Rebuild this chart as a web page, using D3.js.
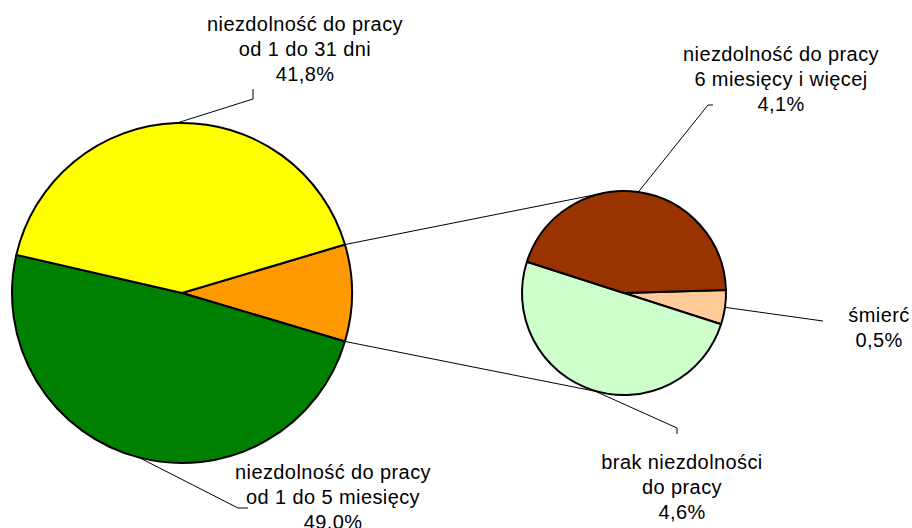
<!DOCTYPE html>
<html lang="pl">
<head>
    <meta charset="UTF-8">
    <title>Niezdolność do pracy</title>
    <script type="text/javascript" src="https://cdn.jsdelivr.net/npm/d3@7/dist/d3.min.js"></script>
</head>
<body>
<style>
    body { margin: 0; background: #ffffff; }
    svg text {
        font-family: "Liberation Sans", Arial, sans-serif;
        font-size: 20px;
        letter-spacing: 0.4px;
        fill: #000000;
    }
</style>
<script>
    // main pie (shares in %)
    var mainCategories = [
        ["niezdolność do pracy", "od 1 do 31 dni"],
        ["niezdolność do pracy", "od 1 do 5 miesięcy"]
    ];
    var mainValues = [41.8, 49.0];
    var mainColors = ["#ffff00", "#008000"];
    var otherColor = "#ff9900";

    // second pie - the rest split up
    var subCategories = [
        ["śmierć"],
        ["brak niezdolności", "do pracy"],
        ["niezdolność do pracy", "6 miesięcy i więcej"]
    ];
    var subValues = [0.5, 4.6, 4.1];
    var subColors = ["#ffcc99", "#ccffcc", "#993300"];

    // where the labels sit (text anchor + leader bend), same order as the categories
    var mainLabelPos = [
        {x: 305, y: 31, bend: [[253, 99], [253, 89]]},
        {x: 333, y: 478.5, bend: [[238, 508], [248, 508]]}
    ];
    var subLabelPos = [
        {x: 879, y: 321.5, bend: [[823, 321]]},
        {x: 682, y: 468.5, bend: [[677, 428], [677, 434]]},
        {x: 781, y: 61, bend: [[708, 105], [713, 105]]}
    ];

    var width = 912, height = 528;
    var mainC = [182, 293], mainR = 170;
    var subC = [624, 293], subR = 102;
    var lineStep = 25;

    var fmt = function(v){ return v.toFixed(1).replace(".", ",") + "%"; };
    var rad = function(deg){ return deg * Math.PI / 180; };

    var svg = d3.select("body").append("svg")
        .attr("width", width)
        .attr("height", height);

    var otherTotal = d3.sum(subValues);

    // slices clockwise starting with the "other" wedge pointing right
    var mainSlices = [{value: otherTotal, color: otherColor, idx: -1}];
    [1, 0].forEach(function(i){
        mainSlices.push({value: mainValues[i], color: mainColors[i], idx: i});
    });
    var mainTotal = otherTotal + d3.sum(mainValues);
    var mainStart = Math.PI / 2 - Math.PI * otherTotal / mainTotal;

    var mainArcs = d3.pie()
        .sort(null)
        .value(function(d){ return d.value; })
        .startAngle(mainStart)
        .endAngle(mainStart + 2 * Math.PI)(mainSlices);

    var subSlices = subValues.map(function(v, i){
        return {value: v, color: subColors[i], idx: i};
    });
    var subStart = rad(88.3);
    var subArcs = d3.pie()
        .sort(null)
        .value(function(d){ return d.value; })
        .startAngle(subStart)
        .endAngle(subStart + 2 * Math.PI)(subSlices);

    function edgePoint(c, r, a){
        return [c[0] + r * Math.sin(a), c[1] - r * Math.cos(a)];
    }

    // tangent point on circle (c, r) seen from p
    function tangent(p, c, r, upper){
        var dx = p[0] - c[0], dy = p[1] - c[1];
        var d = Math.sqrt(dx * dx + dy * dy);
        var base = Math.atan2(dy, dx), off = Math.acos(r / d);
        var t1 = [c[0] + r * Math.cos(base + off), c[1] + r * Math.sin(base + off)];
        var t2 = [c[0] + r * Math.cos(base - off), c[1] + r * Math.sin(base - off)];
        if (upper) return t1[1] < t2[1] ? t1 : t2;
        return t1[1] > t2[1] ? t1 : t2;
    }

    var line = d3.line();

    // connector lines between the pies
    var other = mainArcs[0];
    var pTop = edgePoint(mainC, mainR, other.startAngle);
    var pBot = edgePoint(mainC, mainR, other.endAngle);
    svg.append("path")
        .attr("d", line([pTop, tangent(pTop, subC, subR, true)]))
        .attr("fill", "none").attr("stroke", "#000").attr("stroke-width", 1);
    svg.append("path")
        .attr("d", line([pBot, tangent(pBot, subC, subR, false)]))
        .attr("fill", "none").attr("stroke", "#000").attr("stroke-width", 1);

    function drawPie(arcs, c, r, categories, positions, values){
        var arc = d3.arc().innerRadius(0).outerRadius(r);

        // leader lines
        arcs.forEach(function(a){
            if (a.data.idx < 0) return;
            var pos = positions[a.data.idx];
            var start = edgePoint(c, r, (a.startAngle + a.endAngle) / 2);
            svg.append("path")
                .attr("d", line([start].concat(pos.bend)))
                .attr("fill", "none")
                .attr("stroke", "#000")
                .attr("stroke-width", 1);
        });

        svg.append("g")
            .attr("transform", "translate(" + c[0] + "," + c[1] + ")")
            .selectAll("path")
            .data(arcs)
            .enter()
            .append("path")
            .attr("d", arc)
            .attr("fill", function(d){ return d.color || d.data.color; })
            .attr("stroke", "#000")
            .attr("stroke-width", 2)
            .attr("stroke-linejoin", "round");

        // labels
        categories.forEach(function(lines, i){
            var pos = positions[i];
            var t = svg.append("text")
                .attr("text-anchor", "middle")
                .attr("x", pos.x)
                .attr("y", pos.y);
            lines.concat([fmt(values[i])]).forEach(function(s, k){
                t.append("tspan")
                    .attr("x", pos.x)
                    .attr("y", pos.y + k * lineStep)
                    .text(s);
            });
        });
    }

    drawPie(mainArcs, mainC, mainR, mainCategories, mainLabelPos, mainValues);
    drawPie(subArcs, subC, subR, subCategories, subLabelPos, subValues);
</script>
</body>
</html>
